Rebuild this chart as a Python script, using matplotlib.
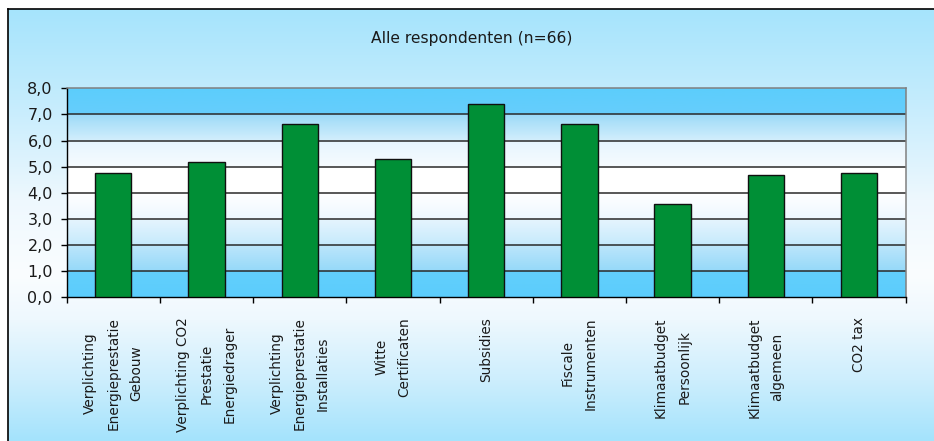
import numpy as np
import matplotlib
matplotlib.use("Agg")
import matplotlib.pyplot as plt
from matplotlib.colors import to_rgb
from matplotlib.lines import Line2D

# --- data -------------------------------------------------------------
categories = [
    "Verplichting\nEnergieprestatie\nGebouw",
    "Verplichting CO2\nPrestatie\nEnergiedrager",
    "Verplichting\nEnergieprestatie\nInstallaties",
    "Witte\nCertificaten",
    "Subsidies",
    "Fiscale\nInstrumenten",
    "Klimaatbudget\nPersoonlijk",
    "Klimaatbudget\nalgemeen",
    "CO2 tax",
]
scores = [4.75, 5.18, 6.65, 5.30, 7.40, 6.65, 3.57, 4.70, 4.75]
y_ticks = [0, 1, 2, 3, 4, 5, 6, 7, 8]
y_tick_labels = ["0,0", "1,0", "2,0", "3,0", "4,0", "5,0", "6,0", "7,0", "8,0"]
title = "Alle respondenten (n=66)"

# --- figure -----------------------------------------------------------
W, H, DPI = 934, 441, 100
fig = plt.figure(figsize=(W / DPI, H / DPI), dpi=DPI, facecolor="white")
plt.rcParams["font.family"] = ["DejaVu Sans"]


def gradient(stops_pos, stops_col, n=600, lo=0.0, hi=1.0):
    pos = np.linspace(lo, hi, n)
    cols = np.array([to_rgb(c) for c in stops_col])
    out = np.zeros((n, 3))
    for k in range(3):
        out[:, k] = np.interp(pos, stops_pos, cols[:, k])
    return out


# outer chart frame with vertical sky gradient (pixel rows from the top)
fx0, fy_top = 8 / W, 1 - 9 / H
bg_ax = fig.add_axes([fx0, 0, 1 - fx0, fy_top], zorder=-5)
bg_ax.set_axis_off()
rows = gradient([9, 100, 200, 275, 320, 380, 441],
                ["#a6e4fc", "#c4ecfd", "#eef8fe", "#fafdff", "#eef8fe", "#cdeefd", "#a4e3fc"],
                n=440, lo=9, hi=441)
bg_ax.imshow(rows[:, None, :], aspect="auto", extent=[0, 1, 0, 1], origin="upper")
bg_ax.set_xlim(0, 1)
bg_ax.set_ylim(0, 1)
fig.add_artist(Line2D([fx0, fx0], [0, fy_top], color="black", lw=1.2, transform=fig.transFigure))
fig.add_artist(Line2D([fx0, 1], [fy_top, fy_top], color="black", lw=1.2, transform=fig.transFigure))

# plot area
left, right = 66.7 / W, 905.7 / W
bottom, top = 1 - 297.3 / H, 1 - 88.3 / H
ax = fig.add_axes([left, bottom, right - left, top - bottom])

n = len(categories)
x = np.arange(n)
ax.set_xlim(-0.5, n - 0.5)
ax.set_ylim(0, 8)

# banded blue-white-blue fill of the plot area
eps = 0.001
pa_pos = [0, 1 - eps, 1 + eps, 2 - eps, 2 + eps, 3 - eps, 3 + eps, 4, 5 - eps,
          5 + eps, 6 - eps, 6 + eps, 7 - eps, 7 + eps, 8]
pa_col = ["#5ccdfc", "#62cffc", "#96d9f9", "#bde6fb", "#c6eafc", "#e6f5fe", "#eef8ff", "#ffffff", "#ffffff",
          "#f6fbff", "#e6f5fe", "#d2eefc", "#9cdaf8", "#66cdfc", "#5ccefc"]
fill = gradient(pa_pos, pa_col, n=800, lo=0, hi=8)
ax.imshow(fill[:, None, :], aspect="auto", extent=[-0.5, n - 0.5, 0, 8], origin="lower", zorder=0)

for yv in y_ticks[1:-1]:
    ax.axhline(yv, color="#2a2a2a", lw=1.1, zorder=1)

ax.bar(x, scores, width=0.39, color="#008f36", edgecolor="#101010", linewidth=1.0, zorder=3)

for s in ["top", "right"]:
    ax.spines[s].set_color("#808080")
    ax.spines[s].set_linewidth(1.1)
for s in ["left", "bottom"]:
    ax.spines[s].set_color("#000000")
    ax.spines[s].set_linewidth(1.0)

ax.set_yticks(y_ticks)
ax.set_yticklabels(y_tick_labels, fontsize=11.5, color="#1a1a1a")
ax.tick_params(axis="y", direction="out", length=4, width=1, pad=6)

ax.set_xticks(np.arange(-0.5, n, 1.0))
ax.set_xticklabels([])
ax.tick_params(axis="x", direction="out", length=4, width=1)

label_y = 1 - 317 / H
for i, lab in enumerate(categories):
    xf = left + (i + 0.5) / n * (right - left)
    fig.text(xf, label_y, lab, rotation=90, ha="center", va="top", multialignment="center",
             fontsize=9.8, color="#1a1a1a", linespacing=1.85)

fig.text(472 / W, 1 - 38 / H, title, ha="center", va="center", fontsize=11.2, color="#1a1a1a")

fig.savefig("out.png", dpi=DPI, facecolor="white")
